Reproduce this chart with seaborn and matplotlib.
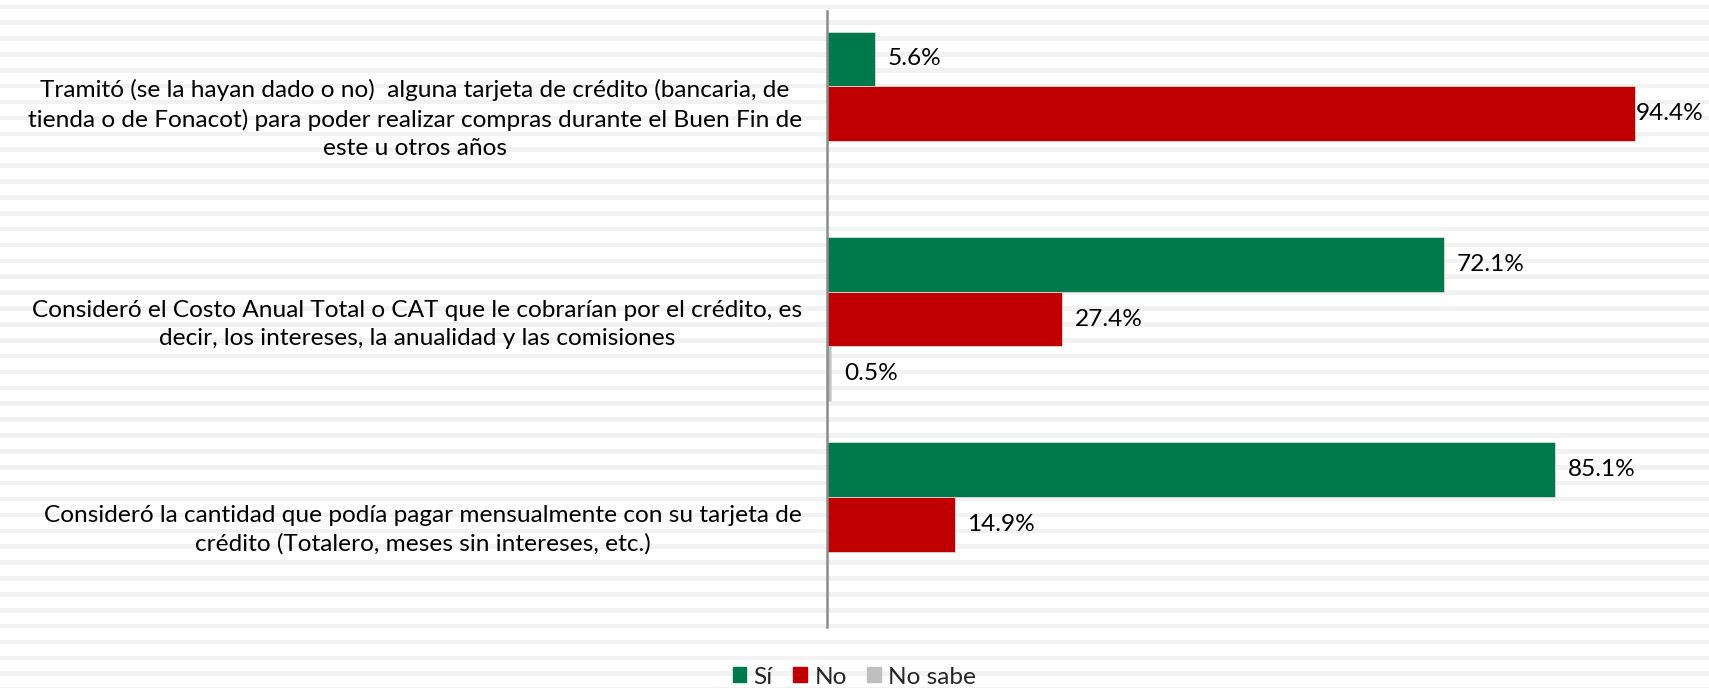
import numpy as np
import pandas as pd
import matplotlib
matplotlib.use("Agg")
import matplotlib.pyplot as plt
import seaborn as sns

categories = [
    "Tramitó (se la hayan dado o no)  alguna tarjeta de crédito (bancaria, de\ntienda o de Fonacot) para poder realizar compras durante el Buen Fin de\neste u otros años",
    "Consideró el Costo Anual Total o CAT que le cobrarían por el crédito, es\ndecir, los intereses, la anualidad y las comisiones",
    "Consideró la cantidad que podía pagar mensualmente con su tarjeta de\ncrédito (Totalero, meses sin intereses, etc.)",
]
responses = ["Sí", "No", "No sabe"]
si_values = [5.6, 72.1, 85.1]
no_values = [94.4, 27.4, 14.9]
nosabe_values = [np.nan, 0.5, np.nan]
colors = ["#007A4D", "#C00000", "#BFBFBF"]

rows = []
for cat, s, n, ns in zip(categories, si_values, no_values, nosabe_values):
    for resp, v in zip(responses, [s, n, ns]):
        rows.append({"categoria": cat, "respuesta": resp, "valor": v})
df = pd.DataFrame(rows)

sns.set_theme(style="white")
plt.rcParams["font.family"] = ["Lato", "DejaVu Sans"]
FS = 17.6

W, H = 1709, 688
fig = plt.figure(figsize=(W / 100, H / 100), dpi=100)

# striped background
bg = fig.add_axes([0, 0, 1, 1], zorder=-10)
bg.set_xlim(0, 1)
bg.set_ylim(H, 0)
bg.axis("off")
y0 = 4.5
while y0 < H:
    bg.axhspan(y0, y0 + 4.6, color="#F2F2F2", lw=0)
    y0 += 15.88

ax_left, ax_right = 827 / W, 1683 / W
ax_top, ax_bot = 11 / H, 627 / H
ax = fig.add_axes([ax_left, 1 - ax_bot, ax_right - ax_left, ax_bot - ax_top])
ax.set_facecolor("none")

sns.barplot(data=df, y="categoria", x="valor", hue="respuesta",
            hue_order=responses, palette=colors, orient="h",
            width=0.8, ax=ax, legend=False, saturation=1,
            edgecolor="#D9D9D9", linewidth=0.6)

ax.set_xlim(0, 100)
ax.set_ylim(2.5, -0.5)
ax.set_xlabel("")
ax.set_ylabel("")
ax.set_xticks([])
for s in ["top", "right", "bottom"]:
    ax.spines[s].set_visible(False)
ax.spines["left"].set_color("#8C8C8C")
ax.spines["left"].set_linewidth(1.8)
ax.tick_params(axis="y", length=0, pad=18, labelsize=FS, labelcolor="black")
for lab in ax.get_yticklabels():
    lab.set_multialignment("center")
    lab.set_linespacing(1.42)

for cont in ax.containers:
    for bar in cont:
        v = bar.get_width()
        if np.isnan(v):
            continue
        yc = bar.get_y() + bar.get_height() / 2
        x = v + 1.5 if v < 90 else v + 0.1
        ax.text(x, yc, f"{v:.1f}%", va="center", ha="left", fontsize=FS, color="black")

handles = [plt.Rectangle((0, 0), 1, 1, color=c) for c in colors]
fig.legend(handles, responses, loc="center", bbox_to_anchor=(0.5, 1 - 677 / H),
           ncol=3, frameon=False, fontsize=FS, handlelength=0.55, handleheight=0.55,
           handletextpad=0.3, columnspacing=0.85)

fig.savefig("out.png", dpi=100)
